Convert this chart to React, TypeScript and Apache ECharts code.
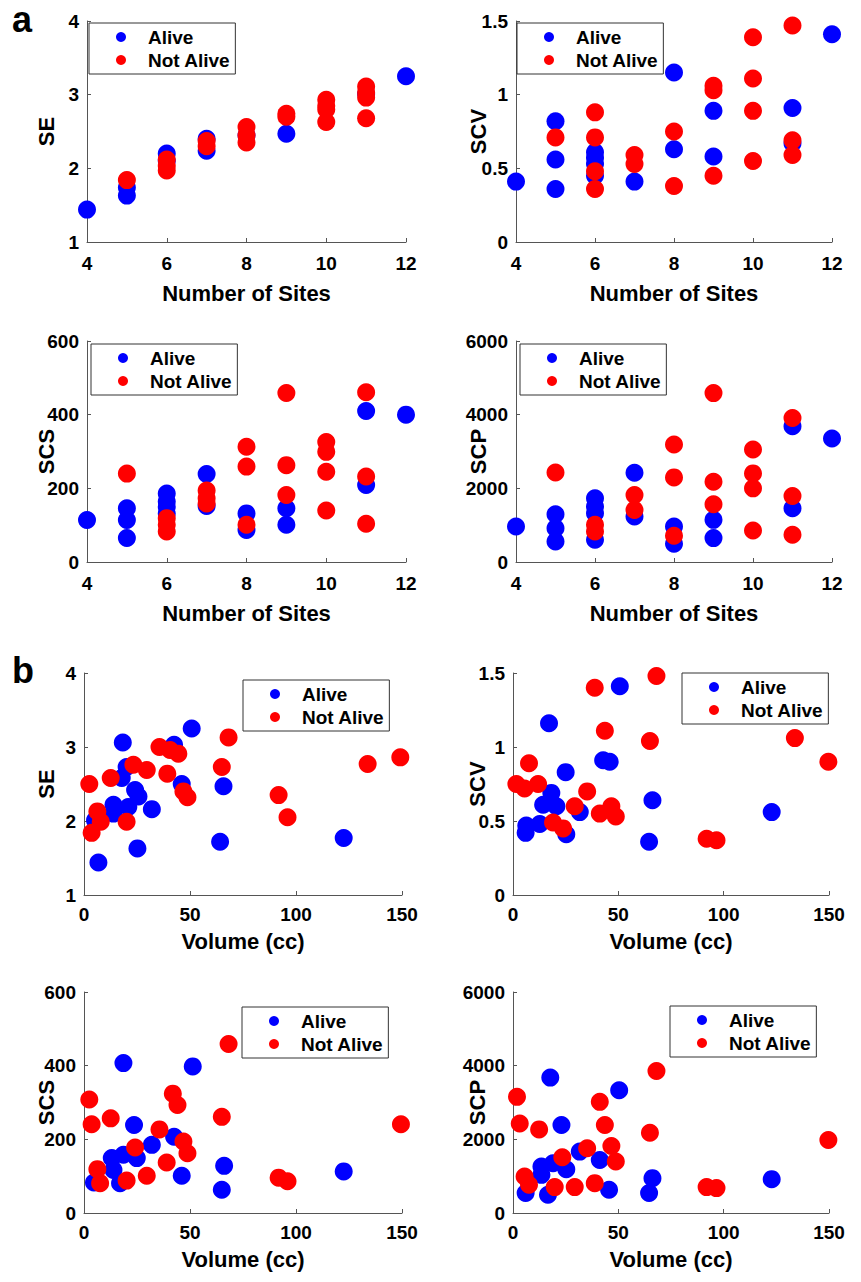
import React, { useEffect, useRef } from "react";
import * as echarts from "echarts";

// ---- data: [x, y] pairs ----
const seAliveSites = [[4,1.44],[5,1.63],[5,1.74],[6,2.20],[6,2.10],[7,2.40],[7,2.24],[8,2.45],[9,2.47],[11,3.01],[12,3.25]];
const seDeadSites = [[5,1.84],[6,2.12],[6,2.03],[6,1.97],[7,2.37],[7,2.30],[8,2.56],[8,2.45],[8,2.35],[9,2.74],[9,2.70],[10,2.93],[10,2.85],[10,2.80],[10,2.63],[11,3.11],[11,3.03],[11,2.96],[11,2.68]];

const scvAliveSites = [[4,0.41],[5,0.82],[5,0.56],[5,0.36],[6,0.61],[6,0.57],[6,0.53],[6,0.45],[7,0.41],[8,1.15],[8,0.63],[9,0.89],[9,0.58],[11,0.91],[11,0.67],[12,1.41]];
const scvDeadSites = [[5,0.71],[6,0.88],[6,0.71],[6,0.48],[6,0.36],[7,0.59],[7,0.53],[8,0.75],[8,0.38],[9,1.06],[9,1.03],[9,0.45],[10,1.39],[10,1.11],[10,0.89],[10,0.55],[11,1.47],[11,0.69],[11,0.59]];

const scsAliveSites = [[4,114],[5,146],[5,114],[5,65],[6,186],[6,164],[6,150],[6,132],[7,239],[7,152],[8,132],[8,87],[9,146],[9,101],[11,410],[11,209],[12,400]];
const scsDeadSites = [[5,240],[6,119],[6,101],[6,83],[7,194],[7,173],[7,159],[8,313],[8,259],[8,101],[9,459],[9,263],[9,182],[10,326],[10,299],[10,245],[10,140],[11,461],[11,232],[11,104]];

const scpAliveSites = [[4,964],[5,1297],[5,919],[5,559],[6,1730],[6,1505],[6,1324],[6,604],[7,2423],[7,1234],[8,964],[8,495],[9,1144],[9,649],[11,3685],[11,1459],[12,3351]];
const scpDeadSites = [[5,2432],[6,1010],[6,830],[7,1820],[7,1414],[8,3189],[8,2297],[8,712],[9,4586],[9,2180],[9,1568],[10,3054],[10,2405],[10,2000],[10,856],[11,3910],[11,1793],[11,739]];

const seAliveVol = [[18.3,3.06],[50.8,3.25],[42.5,3.03],[20.1,2.73],[17.8,2.58],[46.1,2.50],[65.8,2.47],[24.1,2.42],[25.7,2.33],[13.9,2.22],[20.9,2.19],[32,2.16],[13.9,2.10],[5.2,2.01],[64.2,1.72],[122.5,1.77],[25.2,1.63],[6.8,1.44]];
const seDeadVol = [[2.5,2.50],[12.6,2.58],[23.3,2.76],[29.6,2.69],[35.6,3.0],[40.6,2.96],[44.5,2.91],[39.3,2.64],[46.9,2.40],[48.8,2.32],[68.2,3.13],[65,2.73],[91.8,2.35],[96,2.05],[133.8,2.77],[149.2,2.86],[6.3,2.13],[7.9,1.99],[3.6,1.84],[20.1,1.99]];

const scvAliveVol = [[50.7,1.41],[17.1,1.16],[42.8,0.91],[45.9,0.90],[25,0.83],[18.2,0.69],[14.3,0.61],[20.6,0.60],[31.7,0.56],[66.2,0.64],[122.8,0.56],[12.7,0.48],[6.3,0.47],[6.0,0.42],[25.3,0.41],[64.6,0.36]];
const scvDeadVol = [[38.8,1.40],[68.1,1.48],[43.6,1.11],[65,1.04],[133.8,1.06],[149.7,0.90],[7.6,0.89],[1.6,0.75],[5.5,0.72],[11.9,0.75],[35.2,0.70],[29.3,0.60],[41.2,0.55],[46.7,0.60],[48.8,0.53],[19,0.49],[23.8,0.45],[91.9,0.38],[96.6,0.37]];

const scsAliveVol = [[18.6,407],[51.3,398],[23.6,239],[42.5,207],[32,185],[13.1,149],[18.6,158],[24.9,149],[13.9,117],[46.1,101],[66.1,128],[122.5,113],[4.7,83],[17,81],[65,63]];
const scsDeadVol = [[68.2,459],[2.5,308],[41.9,324],[44.1,293],[65,261],[3.6,241],[12.6,257],[35.6,227],[24.1,178],[46.9,194],[48.8,162],[39,137],[6.3,119],[7.6,81],[20.1,88],[29.6,101],[91.8,96],[96,86],[149.5,241]];

const scpAliveVol = [[17.7,3676],[50.4,3333],[23,2387],[31.7,1667],[41.2,1441],[13.5,1261],[19,1351],[25.3,1189],[13.5,1036],[66.2,946],[122.8,919],[6,541],[16.6,495],[45.6,631],[64.6,541]];
const scpDeadVol = [[68.1,3856],[1.9,3153],[41.2,3018],[3.2,2432],[12.4,2270],[43.6,2387],[65,2180],[149.7,1982],[35.2,1757],[46.7,1820],[48.8,1396],[23.4,1514],[5.5,991],[7.6,766],[19.8,703],[29.3,703],[38.8,811],[91.9,703],[96.6,676]];

const seriesNames = ["Alive", "Not Alive"];
const xNames = ["Number of Sites", "Volume (cc)"];
const yNames = ["SE", "SCV", "SCS", "SCP"];
const sitesRange = [4, 12, 2];
const volumeRange = [0, 150, 50];
const yRanges = [[1, 4, 1], [0, 1.5, 0.5], [0, 600, 200], [0, 6000, 2000]];

const FONT = "Liberation Sans, Arial, Helvetica, sans-serif";
const AXIS_COLOR = "#555";

type Panel = {
  left: number; top: number; width: number; height: number;
  xr: number[]; yr: number[]; xName: string; yName: string;
  alive: number[][]; dead: number[][];
  legLeft: number; legTop: number;
  yGap: number; xGap: number; xLabMargin: number;
};

const panels: Panel[] = [
  { left: 87, top: 21, width: 319, height: 221, xr: sitesRange, yr: yRanges[0], xName: xNames[0], yName: yNames[0], alive: seAliveSites, dead: seDeadSites, legLeft: 89, legTop: 23, yGap: 30, xGap: 40, xLabMargin: 12 },
  { left: 516, top: 21, width: 316, height: 221, xr: sitesRange, yr: yRanges[1], xName: xNames[0], yName: yNames[1], alive: scvAliveSites, dead: scvDeadSites, legLeft: 517, legTop: 23, yGap: 27, xGap: 40, xLabMargin: 12 },
  { left: 87, top: 341, width: 319, height: 221, xr: sitesRange, yr: yRanges[2], xName: xNames[0], yName: yNames[2], alive: scsAliveSites, dead: scsDeadSites, legLeft: 91, legTop: 344, yGap: 30, xGap: 40, xLabMargin: 12 },
  { left: 516, top: 341, width: 316, height: 221, xr: sitesRange, yr: yRanges[3], xName: xNames[0], yName: yNames[3], alive: scpAliveSites, dead: scpDeadSites, legLeft: 520, legTop: 344, yGap: 27, xGap: 40, xLabMargin: 12 },
  { left: 84, top: 673, width: 318, height: 222, xr: volumeRange, yr: yRanges[0], xName: xNames[1], yName: yNames[0], alive: seAliveVol, dead: seDeadVol, legLeft: 243, legTop: 680, yGap: 27, xGap: 35, xLabMargin: 10 },
  { left: 513, top: 673, width: 316, height: 222, xr: volumeRange, yr: yRanges[1], xName: xNames[1], yName: yNames[1], alive: scvAliveVol, dead: scvDeadVol, legLeft: 682, legTop: 673, yGap: 25, xGap: 35, xLabMargin: 10 },
  { left: 84, top: 992, width: 318, height: 221, xr: volumeRange, yr: yRanges[2], xName: xNames[1], yName: yNames[2], alive: scsAliveVol, dead: scsDeadVol, legLeft: 242, legTop: 1007, yGap: 27, xGap: 35, xLabMargin: 10 },
  { left: 513, top: 992, width: 316, height: 221, xr: volumeRange, yr: yRanges[3], xName: xNames[1], yName: yNames[3], alive: scpAliveVol, dead: scpDeadVol, legLeft: 670, legTop: 1006, yGap: 25, xGap: 35, xLabMargin: 10 },
];

function axisCommon() {
  return {
    axisLine: { show: true, onZero: false, lineStyle: { color: AXIS_COLOR, width: 1 } },
    axisTick: { show: true, inside: true, length: 4, lineStyle: { color: AXIS_COLOR } },
    splitLine: { show: false },
    axisLabel: {
      color: "#000", fontSize: 19, fontWeight: "bold", fontFamily: FONT,
      showMinLabel: true, showMaxLabel: true,
      formatter: (v: number) => String(v),
    },
    nameTextStyle: { color: "#000", fontSize: 22, fontWeight: "bold", fontFamily: FONT },
    nameLocation: "middle" as const,
    nameMoveOverlap: false,
  };
}

export default function App() {
  const ref = useRef<HTMLDivElement>(null);
  useEffect(() => {
    document.body.style.margin = "0";
    if (!ref.current) return;
    const chart = echarts.init(ref.current, undefined, { renderer: "svg" });
    const grid = panels.map((p) => ({ left: p.left, top: p.top, width: p.width, height: p.height, containLabel: false }));
    const xAxis = panels.map((p, i) => {
      const c = axisCommon();
      return {
        ...c, type: "value", gridIndex: i, min: p.xr[0], max: p.xr[1], interval: p.xr[2],
        name: p.xName, nameGap: p.xGap,
        axisLabel: { ...c.axisLabel, margin: p.xLabMargin },
      };
    });
    const yAxis = panels.map((p, i) => {
      const c = axisCommon();
      return {
        ...c, type: "value", gridIndex: i, min: p.yr[0], max: p.yr[1], interval: p.yr[2],
        name: p.yName, nameGap: p.yGap,
        axisLabel: { ...c.axisLabel, margin: 8 },
      };
    });
    const series: any[] = [];
    panels.forEach((p, i) => {
      series.push({ type: "scatter", name: seriesNames[0], xAxisIndex: i, yAxisIndex: i, data: p.alive, symbol: "circle", symbolSize: 18, itemStyle: { color: "#0000ff", opacity: 1 }, clip: false });
      series.push({ type: "scatter", name: seriesNames[1], xAxisIndex: i, yAxisIndex: i, data: p.dead, symbol: "circle", symbolSize: 18, itemStyle: { color: "#ff0000", opacity: 1 }, clip: false });
    });
    const legend = panels.map((p) => ({
      data: seriesNames, orient: "vertical", left: p.legLeft, top: p.legTop,
      icon: "circle", itemWidth: 44, itemHeight: 10, itemGap: 3,
      padding: [4, 5, 4, 27], borderColor: "#333", borderWidth: 1, backgroundColor: "#fff",
      textStyle: { color: "#000", fontSize: 19, fontWeight: "bold", fontFamily: FONT, lineHeight: 20 },
      selectedMode: false,
    }));
    chart.setOption({
      animation: false,
      backgroundColor: "#fff",
      grid, xAxis, yAxis, series, legend,
      graphic: [
        { type: "text", left: 12, top: 1, style: { text: "a", fontSize: 36, fontWeight: "bold", fontFamily: FONT, fill: "#000" } },
        { type: "text", left: 12, top: 652, style: { text: "b", fontSize: 36, fontWeight: "bold", fontFamily: FONT, fill: "#000" } },
      ],
    });
    return () => chart.dispose();
  }, []);
  return <div ref={ref} style={{ width: 861, height: 1282 }} />;
}
